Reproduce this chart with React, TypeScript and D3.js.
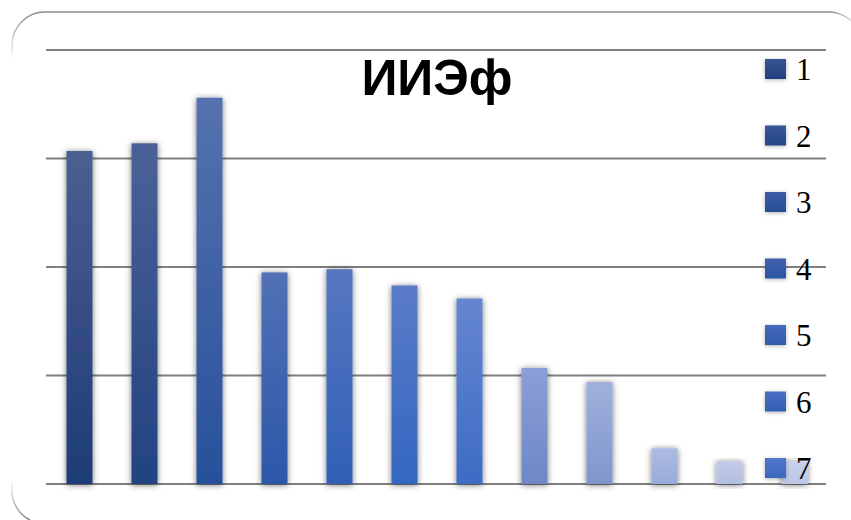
import React from "react";
import * as d3 from "d3";

const categories = ["1", "2", "3", "4", "5", "6", "7", "8", "9", "10", "11", "12"];
const values = [3.07, 3.14, 3.56, 1.95, 1.98, 1.83, 1.71, 1.07, 0.94, 0.33, 0.21, 0.21];
const barTopColors = ["#4c5f90", "#4b6198", "#5572ae", "#5271b6", "#5777c0", "#5b7cc8", "#6586d0", "#8b9fd7", "#a0b1dd", "#aebce2", "#c2cbe8", "#c8d0eb"];
const barBottomColors = ["#1e3b77", "#214381", "#27509b", "#2c58a9", "#3060b7", "#3366c0", "#3d6cc4", "#6e87c7", "#8095cc", "#98aadb", "#b3bfe2", "#bcc6e6"];
const legendLabels = ["1", "2", "3", "4", "5", "6", "7"];
const legendTop = ["#3a5593", "#3a5699", "#3c5ca6", "#4262b0", "#4668bb", "#4a6dc2", "#5077cb"];
const legendBottom = ["#203f7d", "#234686", "#274e94", "#2a55a1", "#2d5cad", "#3060b5", "#3a68be"];
const yTicks = [0, 1, 2, 3, 4];
const title = "ИИЭф";

export default function App() {
  const W = 851, H = 520;
  const left = 46, right = 826, top = 50, bottom = 484;
  const x = d3.scaleBand<string>().domain(categories).range([left + 1, right + 1]).paddingInner(0.6).paddingOuter(0.3);
  const y = d3.scaleLinear().domain([0, 4]).range([bottom, top]);
  const legendY = d3.scalePoint<string>().domain(legendLabels).range([69, 468]);

  return (
    <svg width={W} height={H} style={{ position: "absolute", left: 0, top: 0, background: "#fff" }}>
      <defs>
        <filter id="sh" x="-60%" y="-10%" width="220%" height="130%">
          <feDropShadow dx="0" dy="1" stdDeviation="3" floodColor="#000" floodOpacity="0.55" />
        </filter>
        <filter id="sh2" x="-60%" y="-40%" width="220%" height="180%">
          <feDropShadow dx="0" dy="1" stdDeviation="2" floodColor="#000" floodOpacity="0.3" />
        </filter>
        {categories.map((c, i) => (
          <linearGradient key={c} id={`bg${i}`} x1="0" y1="0" x2="0" y2="1">
            <stop offset="0" stopColor={barTopColors[i]} />
            <stop offset="1" stopColor={barBottomColors[i]} />
          </linearGradient>
        ))}
        {legendLabels.map((c, i) => (
          <linearGradient key={c} id={`lg${i}`} x1="0" y1="0" x2="0" y2="1">
            <stop offset="0" stopColor={legendTop[i]} />
            <stop offset="1" stopColor={legendBottom[i]} />
          </linearGradient>
        ))}
        <linearGradient id="tl" x1="0" y1="1" x2="0" y2="0">
          <stop offset="0" stopColor="#999" stopOpacity="0" />
          <stop offset="1" stopColor="#888" stopOpacity="1" />
        </linearGradient>
        <linearGradient id="tr" x1="0" y1="0" x2="1" y2="0">
          <stop offset="0" stopColor="#888" stopOpacity="1" />
          <stop offset="1" stopColor="#aaa" stopOpacity="0.3" />
        </linearGradient>
        <linearGradient id="bl" x1="0" y1="0" x2="0" y2="1">
          <stop offset="0" stopColor="#999" stopOpacity="0" />
          <stop offset="1" stopColor="#888" stopOpacity="1" />
        </linearGradient>
      </defs>

      {/* chart border pieces */}
      <path d="M12,60 L12,45 A33,33 0 0 1 45,12" fill="none" stroke="url(#tl)" strokeWidth={1.5} />
      <path d="M45,12 L828,12" fill="none" stroke="#8a8a8a" strokeWidth={1.5} />
      <path d="M828,12 A33,33 0 0 1 858,30" fill="none" stroke="url(#tr)" strokeWidth={1.5} />
      <path d="M12,478 L12,488 A33,33 0 0 0 30,520" fill="none" stroke="url(#bl)" strokeWidth={1.5} />

      {/* gridlines */}
      {yTicks.map((t) => (
        <line key={t} x1={left} x2={right} y1={y(t)} y2={y(t)} stroke="#808080" strokeWidth={1.8} />
      ))}

      {/* bars */}
      {categories.map((c, i) => (
        <rect
          key={c}
          x={x(c)}
          y={y(values[i])}
          width={x.bandwidth()}
          height={y(0) - y(values[i])}
          fill={`url(#bg${i})`}
          filter="url(#sh)"
        />
      ))}

      {/* title */}
      <text x={437} y={95} textAnchor="middle" fontFamily="Liberation Sans, Arial, sans-serif" fontWeight="bold" fontSize={50} fill="#000">
        {title}
      </text>

      {/* legend */}
      {legendLabels.map((l, i) => {
        const cy = legendY(l) as number;
        return (
          <g key={l}>
            <rect x={765} y={cy - 10} width={21} height={20} fill={`url(#lg${i})`} filter="url(#sh2)" />
            <text x={796} y={cy + 11} fontFamily="Liberation Serif, Times New Roman, serif" fontSize={31} fill="#000">
              {l}
            </text>
          </g>
        );
      })}
    </svg>
  );
}
